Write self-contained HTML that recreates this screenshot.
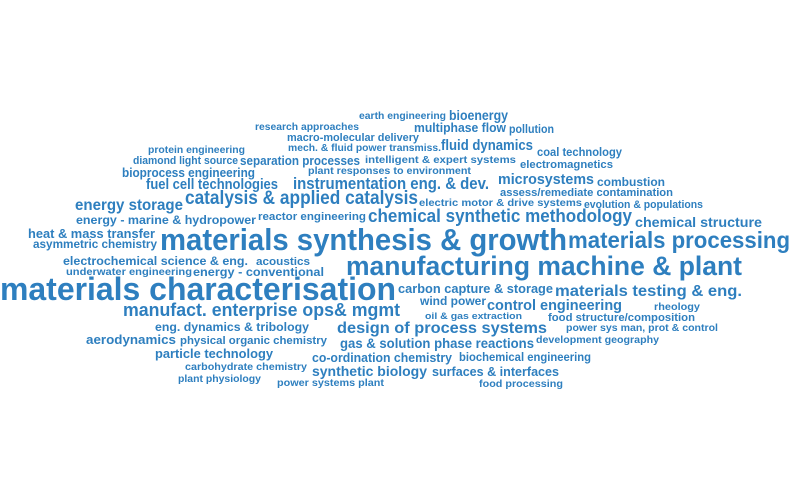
<!DOCTYPE html>
<html><head><meta charset="utf-8"><style>
html,body{margin:0;padding:0;background:#fff;}
svg{display:block;}
text{fill:#2e7fbf;font-family:"Liberation Sans",sans-serif;font-weight:bold;}
</style></head><body>
<svg id="cloud" width="792" height="503" viewBox="0 0 792 503"></svg>
<script>
const words = ["earth engineering","bioenergy","research approaches","multiphase flow","pollution","macro-molecular delivery","mech. & fluid power transmiss.","fluid dynamics","coal technology","protein engineering","diamond light source","separation processes","intelligent & expert systems","electromagnetics","plant responses to environment","bioprocess engineering","fuel cell technologies","instrumentation eng. & dev.","microsystems","combustion","assess/remediate contamination","catalysis & applied catalysis","electric motor & drive systems","evolution & populations","energy storage","chemical synthetic methodology","chemical structure","energy - marine & hydropower","reactor engineering","heat & mass transfer","asymmetric chemistry","materials synthesis & growth","materials processing","electrochemical science & eng.","acoustics","underwater engineering","energy - conventional","manufacturing machine & plant","materials characterisation","carbon capture & storage","materials testing & eng.","wind power","control engineering","rheology","manufact. enterprise ops& mgmt","oil & gas extraction","food structure/composition","eng. dynamics & tribology","design of process systems","power sys man, prot & control","aerodynamics","physical organic chemistry","gas & solution phase reactions","development geography","particle technology","co-ordination chemistry","biochemical engineering","carbohydrate chemistry","synthetic biology","surfaces & interfaces","plant physiology","power systems plant","food processing"];
const weights = [10,14,10,13,12,11,10,15,12,10,11,13,10,11,10,13,15,17,15,12,11,19,10,11,16,18,14,12,11,13,12,31,23,12,11,10,12,27,32,13,16,12,15,10,18,9,11,12,16,10,13,11,14,10,13,13,12,10,14,13,10,10,10];
const xs = [359,449,255,414,509,287,288,441,537,148,133,240,365,520,308,122,146,293,498,597,500,185,419,584,75,368,635,76,258,28,33,160,568,63,256,66,193,346,0,398,555,420,487,654,123,425,548,155,337,566,86,180,340,536,155,312,459,185,312,432,178,277,479];
const xe = [446,508,359,506,554,419,441,533,622,245,238,360,516,613,471,255,278,489,594,665,673,418,582,703,183,632,762,256,366,155,157,567,790,248,310,192,324,742,396,553,742,486,622,700,400,522,695,309,547,718,176,327,534,659,273,452,591,307,427,559,261,384,563];
const ys = [119,120,130,132,133,141,151,150,156,153,164,165,163,168,174,177,189,189,184,186,196,204,206,208,210,222,227,224,220,238,248,250,248,265,265,275,276,275,300,293,296,305,310,310,316,319,321,331,333,331,344,344,348,343,358,362,361,370,376,376,382,386,387];
const svg = document.getElementById('cloud');
for (let i = 0; i < words.length; i++) {
  const t = document.createElementNS('http://www.w3.org/2000/svg','text');
  t.setAttribute('x', xs[i]);
  t.setAttribute('y', ys[i]);
  t.setAttribute('font-size', weights[i]);
  t.setAttribute('textLength', xe[i] - xs[i]);
  t.setAttribute('lengthAdjust', 'spacingAndGlyphs');
  t.textContent = words[i];
  
  
  svg.appendChild(t);
}
</script>
</body></html>
